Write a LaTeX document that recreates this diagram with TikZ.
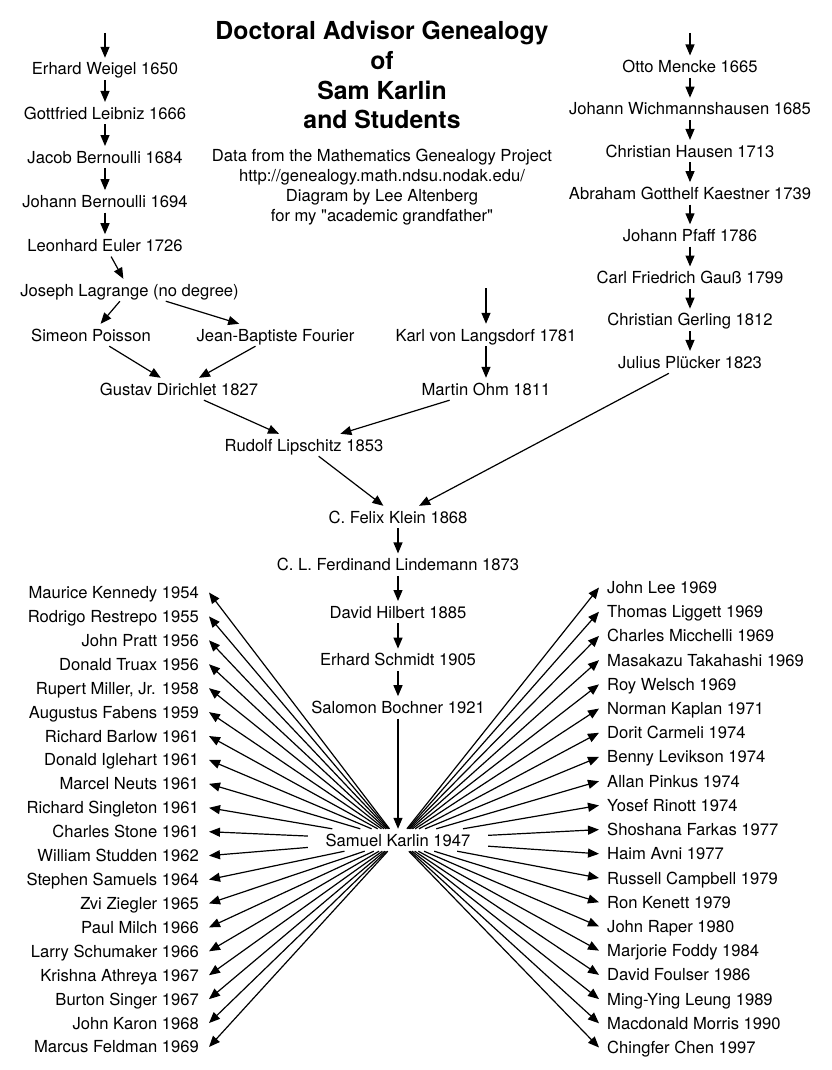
\documentclass[tikz,border=0pt]{standalone}
\usepackage{fontspec}
\setmainfont{TeX Gyre Heros}[Ligatures=TeXOff]
\usepackage{tikz}
\usetikzlibrary{arrows.meta, positioning}
\newcommand{\namefont}{\fontsize{16.6}{19}\selectfont}
\newcommand{\creditfont}{\fontsize{16.6}{19.8}\selectfont}
\newcommand{\titlefont}{\fontsize{24.8}{29.7}\selectfont\bfseries}

\begin{document}
\begin{tikzpicture}[x=1pt, y=-1pt, node distance=44.1pt]
        \tikzstyle{person} = [inner xsep=2pt, inner ysep=4pt, text height=13pt, text depth=1pt, font=\namefont]
        \tikzstyle{student} = [person, inner xsep=10pt]
        \tikzstyle{arrow} = [line width=1.2pt,->,>={Triangle[length=11pt,width=9pt]}]

        \useasboundingbox (0,0) rectangle (831,1070);

        \node (title) [anchor=north, align=center, inner sep=0pt, font=\titlefont] at (382,21) {Doctoral Advisor Genealogy\\of\\Sam Karlin\\and Students};
        \node (credits) [anchor=north, align=center, inner sep=0pt, font=\creditfont] at (382,149) {Data from the Mathematics Genealogy Project\\http://genealogy.math.ndsu.nodak.edu/\\Diagram by Lee Altenberg\\for my "academic grandfather"};

        \coordinate (topleft) at (105,33);
        \node (weigel) [person] at (105,69) {Erhard Weigel 1650};
        \node (leibniz) [person, below of=weigel] {Gottfried Leibniz 1666};
        \node (jacob) [person, below of=leibniz] {Jacob Bernoulli 1684};
        \node (johann) [person, below of=jacob] {Johann Bernoulli 1694};
        \node (euler) [person, below of=johann] {Leonhard Euler 1726};
        \node (lagrange) [person] at (129.5,290) {Joseph Lagrange (no degree)};
        \node (poisson) [person] at (91,335) {Simeon Poisson};
        \node (fourier) [person] at (275.5,335) {Jean-Baptiste Fourier};
        \node (dirichlet) [person] at (179,389) {Gustav Dirichlet 1827};

        \begin{scope}[node distance=42.2pt]
        \coordinate (topright) at (690,33);
        \node (mencke) [person] at (690,66.7) {Otto Mencke 1665};
        \node (wichmann) [person, below of=mencke] {Johann Wichmannshausen 1685};
        \node (hausen) [person, below of=wichmann] {Christian Hausen 1713};
        \node (kaestner) [person, below of=hausen] {Abraham Gotthelf Kaestner 1739};
        \node (pfaff) [person, below of=kaestner] {Johann Pfaff 1786};
        \node (gauss) [person, below of=pfaff] {Carl Friedrich Gauß 1799};
        \node (gerling) [person, below of=gauss] {Christian Gerling 1812};
        \node (pluecker) [person, below of=gerling] {Julius Plücker 1823};
        \end{scope}

        \coordinate (topmid) at (486,288);
        \node (langsdorf) [person] at (486,335) {Karl von Langsdorf 1781};
        \node (ohm) [person] at (486,389) {Martin Ohm 1811};
        \node (lipschitz) [person] at (304,445) {Rudolf Lipschitz 1853};
        \node (klein) [person] at (398,517) {C. Felix Klein 1868};

        \begin{scope}[node distance=47.6pt]
        \node (lindemann) [person, below of=klein] {C. L. Ferdinand Lindemann 1873};
        \node (hilbert) [person, below of=lindemann] {David Hilbert 1885};
        \node (schmidt) [person, below of=hilbert] {Erhard Schmidt 1905};
        \node (bochner) [person, below of=schmidt] {Salomon Bochner 1921};
        \end{scope}
        \node (karlin) [person, minimum width=180pt, minimum height=20pt] at (398,840) {Samuel Karlin 1947};

        \draw [arrow] (topleft) -- (weigel);
        \draw [arrow] (weigel) -- (leibniz);
        \draw [arrow] (leibniz) -- (jacob);
        \draw [arrow] (jacob) -- (johann);
        \draw [arrow] (johann) -- (euler);
        \draw [arrow] (euler) -- (lagrange);
        \draw [arrow] (lagrange) -- (poisson);
        \draw [arrow] (lagrange) -- (fourier);
        \draw [arrow] (poisson) -- (dirichlet);
        \draw [arrow] (fourier) -- (dirichlet);
        \draw [arrow] (dirichlet) -- (lipschitz);

        \draw [arrow] (topmid) -- (langsdorf);
        \draw [arrow] (langsdorf) -- (ohm);
        \draw [arrow] (ohm) -- (lipschitz);

        \draw [arrow] (topright) -- (mencke);
        \draw [arrow] (mencke) -- (wichmann);
        \draw [arrow] (wichmann) -- (hausen);
        \draw [arrow] (hausen) -- (kaestner);
        \draw [arrow] (kaestner) -- (pfaff);
        \draw [arrow] (pfaff) -- (gauss);
        \draw [arrow] (gauss) -- (gerling);
        \draw [arrow] (gerling) -- (pluecker);

        \draw [arrow] (lipschitz) -- (klein);
        \draw [arrow] (pluecker) -- (klein);
        \draw [arrow] (klein) -- (lindemann);
        \draw [arrow] (lindemann) -- (hilbert);
        \draw [arrow] (hilbert) -- (schmidt);
        \draw [arrow] (schmidt) -- (bochner);
        \draw [arrow] (bochner) -- (karlin);

        % students
        \foreach \name [count=\i] in {Maurice Kennedy 1954, Rodrigo Restrepo 1955, John Pratt 1956, Donald Truax 1956, {Rupert Miller, Jr. 1958}, Augustus Fabens 1959, Richard Barlow 1961, Donald Iglehart 1961, Marcel Neuts 1961, Richard Singleton 1961, Charles Stone 1961, William Studden 1962, Stephen Samuels 1964, Zvi Ziegler 1965, Paul Milch 1966, Larry Schumaker 1966, Krishna Athreya 1967, Burton Singer 1967, John Karon 1968, Marcus Feldman 1969} {
            \node (left\i) [student, anchor=east] at (209,{592.5+23.92*(\i-1)}) {\name};
            \draw [arrow] (karlin) -- (left\i.east);
        }
        \foreach \name [count=\i] in {John Lee 1969, Thomas Liggett 1969, Charles Micchelli 1969, Masakazu Takahashi 1969, Roy Welsch 1969, Norman Kaplan 1971, Dorit Carmeli 1974, Benny Levikson 1974, Allan Pinkus 1974, Yosef Rinott 1974, Shoshana Farkas 1977, Haim Avni 1977, Russell Campbell 1979, Ron Kenett 1979, John Raper 1980, Marjorie Foddy 1984, David Foulser 1986, Ming-Ying Leung 1989, Macdonald Morris 1990, Chingfer Chen 1997} {
            \node (right\i) [student, inner xsep=8pt, anchor=west] at (599,{587.5+24.21*(\i-1)}) {\name};
            \draw [arrow] (karlin) -- (right\i.west);
        }
\end{tikzpicture}
\end{document}
